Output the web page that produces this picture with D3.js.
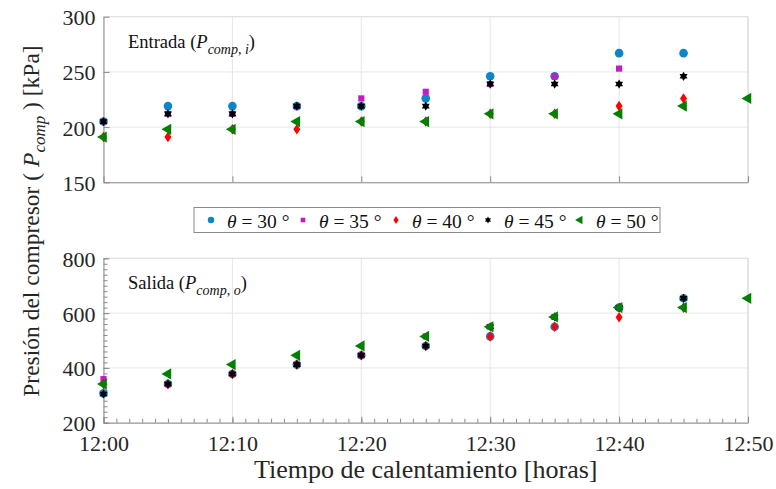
<!DOCTYPE html>
<html>
<head>
<meta charset="utf-8">
<script src="https://cdn.jsdelivr.net/npm/d3@7"></script>
<style>
  body { margin: 0; background: #fff; }
  .grid line { stroke: #e6e6e6; }
  .axis path, .axis line { stroke: #8a8a8a; }
  .axis text { fill: #262626; font-size: 22px; }
</style>
</head>
<body>
<div id="chart"></div>
<script>
// Data (kPa), null = no point
const times = ["12:00", "12:05", "12:10", "12:15", "12:20", "12:25", "12:30", "12:35", "12:40", "12:45", "12:50"];
const thetas = [30, 35, 40, 45, 50];

// Entrada (P comp, i)
const inlet30 = [205, 219, 219, 219, 219, 226, 246, 246, 267, 267, null];
const inlet35 = [205, 212, 212, 219, 226, 232, 239, 246, 253, null, null];
const inlet40 = [191, 191, 198, 198, 205, 205, 212, 212, 219, 226, null];
const inlet45 = [205, 212, 212, 219, 219, 219, 239, 239, 239, 246, null];
const inlet50 = [191, 198, 198, 205, 205, 205, 212, 212, 212, 219, 226];

// Salida (P comp, o)
const outlet30 = [307, 341, 378, 412, 446, 480, 515, 550, 620, 654, null];
const outlet35 = [359, 341, 378, 412, 446, 515, 550, 586, 620, null, null];
const outlet40 = [341, 341, 378, 412, 446, 480, 515, 550, 585, 620, null];
const outlet45 = [305, 341, 378, 412, 446, 480, 550, 586, 620, 654, null];
const outlet50 = [341, 378, 412, 446, 480, 515, 550, 586, 620, 620, 654];

const inletTicks = [150, 200, 250, 300];
const outletTicks = [200, 400, 600, 800];

// Global constants
const width = 776;
const height = 489;
const plotLeft = 103.5;
const plotRight = 748;
const serif = "'Liberation Serif', 'Times New Roman', Times, serif";

const colors = ["#0c86c8", "#c21cc2", "#ff0000", "#000000", "#008000"];

const parseTime = d3.timeParse("%H:%M");
const x = d3.scaleTime()
  .domain([parseTime("12:00"), parseTime("12:50")])
  .range([plotLeft, plotRight]);

const yTop = d3.scaleLinear().domain([150, 300]).range([182.3, 16.7]);
const yBottom = d3.scaleLinear().domain([200, 800]).range([422.7, 258.3]);

const svg = d3.select("#chart")
  .append("svg")
    .attr("width", width)
    .attr("height", height)
    .attr("font-family", serif)
    .style("font-family", serif);

// hexagram for the theta = 45 series
const hexagram = {
  draw(ctx, size) {
    const r = Math.sqrt(size) * 0.62;
    for (let k = 0; k < 2; k++) {
      for (let i = 0; i < 3; i++) {
        const a = (k * 60 + i * 120 - 90) * Math.PI / 180;
        const px = r * Math.cos(a), py = r * Math.sin(a);
        if (i === 0) ctx.moveTo(px, py); else ctx.lineTo(px, py);
      }
      ctx.closePath();
    }
  }
};

// marker shapes per series
const markers = [
  { type: d3.symbolCircle, size: 58, rot: 0, sx: 1 },
  { type: d3.symbolSquare, size: 38, rot: 0, sx: 1 },
  { type: d3.symbolDiamond, size: 32, rot: 0, sx: 1.15 },
  { type: hexagram, size: 55, rot: 0, sx: 1 },
  { type: d3.symbolTriangle, size: 55, rot: -90, sx: 1 }
];

const drawMarker = (sel, i) => {
  const m = markers[i];
  sel.attr("d", d3.symbol().type(m.type).size(m.size)())
    .attr("fill", colors[i]);
};

const markerTransform = (i, px, py, k = 1) => {
  const m = markers[i];
  return "translate(" + px + "," + py + ") rotate(" + m.rot + ") scale(" + (m.sx * k) + "," + k + ")";
};

// START PANEL
const renderPanel = (y, ticks, series, minor, showXLabels, label, sub) => {
  const top = y.range()[1];
  const bottom = y.range()[0];
  const g = svg.append("g");

  // grid
  const grid = g.append("g").attr("class", "grid");
  grid.selectAll(".gx")
    .data(x.ticks(d3.timeMinute.every(10)))
    .enter().append("line")
      .attr("x1", d => x(d)).attr("x2", d => x(d))
      .attr("y1", top).attr("y2", bottom);
  grid.selectAll(".gy")
    .data(ticks)
    .enter().append("line")
      .attr("x1", plotLeft).attr("x2", plotRight)
      .attr("y1", d => y(d)).attr("y2", d => y(d));

  // box top / right
  g.append("line")
    .attr("x1", plotLeft).attr("x2", plotRight)
    .attr("y1", top).attr("y2", top)
    .attr("stroke", "#e0e0e0");
  g.append("line")
    .attr("x1", plotRight).attr("x2", plotRight)
    .attr("y1", top).attr("y2", bottom)
    .attr("stroke", "#d4d4d4");

  // minor ticks
  if (minor) {
    g.append("g")
      .attr("transform", "translate(0," + bottom + ")")
      .attr("class", "axis")
      .call(d3.axisBottom(x).ticks(d3.timeMinute.every(1)).tickSize(-4).tickFormat(""))
      .call(a => a.select(".domain").remove());
    g.append("g")
      .attr("transform", "translate(" + plotLeft + ",0)")
      .attr("class", "axis")
      .call(d3.axisLeft(y).ticks(30).tickSize(-4).tickFormat(""))
      .call(a => a.select(".domain").remove());
  }

  // axes
  g.append("g")
    .attr("transform", "translate(0," + bottom + ")")
    .attr("class", "axis")
    .call(d3.axisBottom(x)
      .ticks(d3.timeMinute.every(10))
      .tickSize(-6).tickSizeOuter(0)
      .tickPadding(9)
      .tickFormat(showXLabels ? d3.timeFormat("%H:%M") : ""))
    .attr("font-family", serif)
    .call(a => a.selectAll("text").attr("dy", "0.9em"));

  g.append("g")
    .attr("transform", "translate(" + plotLeft + ",0)")
    .attr("class", "axis")
    .call(d3.axisLeft(y).tickValues(ticks).tickSize(-6).tickSizeOuter(0).tickPadding(8))
    .attr("font-family", serif)
    .call(a => a.selectAll("text").attr("dy", "0.36em"));

  // panel label
  const t = g.append("text")
    .attr("x", 128)
    .attr("y", top + 31)
    .attr("font-size", "18.5px")
    .attr("fill", "#111");
  t.append("tspan").text(label + " (");
  t.append("tspan").attr("font-style", "italic").text("P");
  t.append("tspan").attr("font-style", "italic").attr("font-size", "14px")
    .attr("dy", "6").text(sub);
  t.append("tspan").attr("dy", "-6").text(")");

  // points
  series.forEach((vals, i) => {
    const pts = vals.map((v, j) => ({ t: parseTime(times[j]), v: v }))
      .filter(d => d.v !== null);
    g.selectAll(".s" + i)
      .data(pts)
      .enter().append("path")
        .attr("class", "s" + i)
        .call(s => drawMarker(s, i))
        .attr("transform", d => markerTransform(i, x(d.t), y(d.v)));
  });
};
// END PANEL

renderPanel(yTop, inletTicks, [inlet30, inlet35, inlet40, inlet45, inlet50], false, false, "Entrada", "comp, i");
renderPanel(yBottom, outletTicks, [outlet30, outlet35, outlet40, outlet45, outlet50], true, true, "Salida", "comp, o");

// Legend
const legend = svg.append("g");
legend.append("rect")
  .attr("x", 194).attr("y", 207.5)
  .attr("width", 466).attr("height", 25)
  .attr("fill", "#fff")
  .attr("stroke", "#8a8a8a");

const legendX = [211, 303, 396, 488, 580];
thetas.forEach((th, i) => {
  legend.append("path")
    .call(s => drawMarker(s, i))
    .attr("transform", markerTransform(i, legendX[i], 220, 0.75));
  const lt = legend.append("text")
    .attr("x", legendX[i] + 16)
    .attr("y", 227.5)
    .attr("font-size", "19.5px")
    .attr("fill", "#111");
  lt.append("tspan").attr("font-style", "italic").text("θ");
  lt.append("tspan").text(" = " + th + " °");
});

// Axis titles
svg.append("text")
  .attr("x", (plotLeft + plotRight) / 2)
  .attr("y", 478)
  .attr("text-anchor", "middle")
  .attr("font-size", "26px")
  .attr("fill", "#262626")
  .text("Tiempo de calentamiento [horas]");

const yt = svg.append("text")
  .attr("transform", "translate(39,221) rotate(-90)")
  .attr("text-anchor", "middle")
  .attr("font-size", "23.5px")
  .attr("fill", "#262626");
yt.append("tspan").text("Presión del compresor ( ");
yt.append("tspan").attr("font-style", "italic").text("P");
yt.append("tspan").attr("font-style", "italic").attr("font-size", "17px").attr("dy", "6").text("comp");
yt.append("tspan").attr("dy", "-6").text(" ) [kPa]");
</script>
</body>
</html>
